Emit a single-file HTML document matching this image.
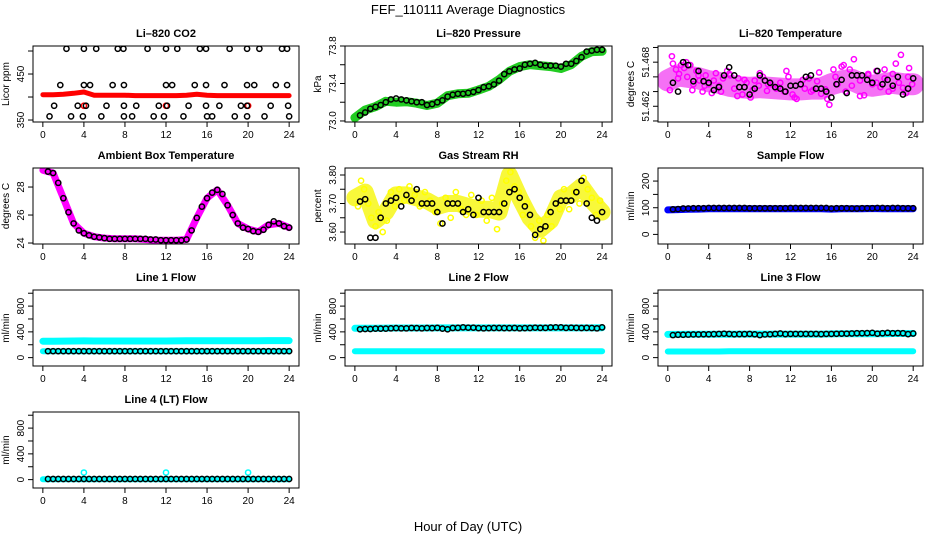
<!DOCTYPE html>
<html><head><meta charset="utf-8"><style>
html,body{margin:0;padding:0;background:#fff;}
svg{display:block;font-family:"Liberation Sans",Arial,sans-serif;}
</style></head><body>
<svg id="chart" width="936" height="540" viewBox="0 0 936 540" xmlns="http://www.w3.org/2000/svg">
<text x="468" y="14" text-anchor="middle" font-size="13">FEF_110111  Average Diagnostics</text>
<text x="468" y="531" text-anchor="middle" font-size="13">Hour of Day (UTC)</text>
</svg>
<script>
// ---------- data ----------
const xTicks = [0,4,8,12,16,20,24];
const blackHours = [0.5,1,1.5,2,2.5,3,3.5,4,4.5,5,5.5,6,6.5,7,7.5,8,8.5,9,9.5,10,10.5,11,11.5,12,12.5,13,13.5,14,14.5,15,15.5,16,16.5,17,17.5,18,18.5,19,19.5,20,20.5,21,21.5,22,22.5,23,23.5,24];
const bandHours = [0,1,2,3,4,5,6,7,8,9,10,11,12,13,14,15,16,17,18,19,20,21,22,23,24];

// CO2
const co2BlackHours = [2.3,4.0,5.2,7.3,7.85,10.2,12.0,13.1,15.3,15.9,18.2,19.9,21.1,23.3,23.8,
 1.7,4.0,4.6,6.8,7.9,12.0,12.6,14.8,15.9,17.7,19.9,20.6,22.7,23.8,
 1.1,3.4,4.2,6.2,7.9,9.1,11.3,12.1,14.2,15.9,17.2,19.3,19.9,22.2,23.9,
 0.65,2.75,3.9,5.7,7.9,8.7,10.8,11.8,13.7,16.0,16.5,18.7,19.9,21.6,24.0];
const co2BlackValues = [505,505,505,505,505,505,505,505,505,505,505,505,505,505,505,
 426,426,426,426,426,426,426,426,426,426,426,426,426,426,
 381,381,381,381,381,381,381,381,381,381,381,381,381,381,381,
 358,358,358,358,358,358,358,358,358,358,358,358,358,358,358];
const co2Red = [405,405,406,408,411,404,404,404,404,403,403,403,403,403,404,406,404,403,403,403,403,403,403,403,403];
const co2RedSpikeHours = [4,12,20];
const co2RedSpikeValues = [381,381,381];

// Pressure
const presGreen = [73.035,73.117,73.153,73.21,73.2,73.206,73.19,73.165,73.19,73.27,73.29,73.295,73.33,73.37,73.44,73.53,73.58,73.6,73.59,73.58,73.56,73.6,73.69,73.74,73.745];
const presBlack = [73.06,73.09,73.13,73.15,73.17,73.2,73.23,73.24,73.23,73.22,73.21,73.2,73.2,73.17,73.18,73.2,73.22,73.26,73.28,73.29,73.29,73.3,73.31,73.33,73.36,73.37,73.39,73.43,73.5,73.53,73.55,73.56,73.6,73.61,73.62,73.6,73.59,73.59,73.59,73.58,73.61,73.61,73.64,73.68,73.74,73.75,73.76,73.76];

// Li-820 temperature
const tempMag = [51.4655,51.4662,51.4660,51.4658,51.4654,51.4652,51.4648,51.4646,51.4645,51.4646,51.4645,51.4644,51.4643,51.4643,51.4644,51.4644,51.4650,51.4654,51.4656,51.4650,51.4648,51.4650,51.4652,51.4650,51.4650];
const tempMagScatHours = [0.2,0.5,0.8,1.0,1.3,1.6,1.9,2.2,2.5,2.8,3.1,3.4,3.7,4.0,4.3,4.7,5.0,5.4,5.8,6.1,6.5,6.9,7.3,7.7,8.1,8.5,8.9,9.3,9.7,10.1,10.6,11.0,11.4,11.8,12.2,12.6,13.0,13.4,13.8,14.2,14.6,15.0,15.4,15.8,16.2,16.6,17.0,17.4,17.8,18.2,18.5,18.8,19.2,19.6,20.0,20.4,20.8,21.2,21.6,22.0,22.3,22.6,23.0,23.3,23.6,23.9,
 0.4,1.1,1.8,2.4,3.0,3.6,4.5,5.2,6.0,6.8,7.5,8.3,9.0,9.8,10.8,11.6,12.4,13.2,14.0,14.8,15.6,16.4,17.2,18.0,18.8,19.6,20.4,21.2,22.0,22.8,23.5];
const tempMagScatValues = [51.4642,51.4678,51.4670,51.4658,51.4676,51.4672,51.4660,51.4676,51.4650,51.4668,51.4655,51.4640,51.4662,51.4650,51.4638,51.4665,51.4648,51.4658,51.4668,51.4662,51.4644,51.4658,51.4636,51.4652,51.4632,51.4655,51.4648,51.4660,51.4641,51.4650,51.4644,51.4652,51.4640,51.4660,51.4636,51.4630,51.4650,51.4644,51.4658,51.4642,51.4654,51.4637,51.4643,51.4622,51.4670,51.4650,51.4674,51.4640,51.4670,51.4684,51.4662,51.4655,51.4635,51.4662,51.4650,51.4668,51.4646,51.4658,51.4640,51.4664,51.4678,51.4652,51.4645,51.4638,51.4672,51.4650,
 51.4688,51.4664,51.4680,51.4642,51.4662,51.4648,51.4655,51.4640,51.4664,51.4634,51.4656,51.4642,51.4665,51.4650,51.4646,51.4668,51.4632,51.4656,51.4640,51.4666,51.4630,51.4660,51.4676,51.4648,51.4634,51.4664,51.4652,51.4670,51.4644,51.4690,51.4660];
const tempBlack = [51.4652,51.4640,51.4680,51.4676,51.4654,51.4668,51.4654,51.4652,51.4642,51.4646,51.4662,51.4673,51.4662,51.4646,51.4646,51.4636,51.4644,51.4662,51.4655,51.4652,51.4646,51.4644,51.4640,51.4648,51.4648,51.4650,51.4660,51.4662,51.4644,51.4644,51.4640,51.4632,51.4650,51.4656,51.4638,51.4662,51.4662,51.4662,51.4656,51.4652,51.4668,51.4650,51.4656,51.4648,51.4660,51.4636,51.4644,51.4658];

// Ambient box temperature
const ambMag = [29.2,29.0,27.2,25.4,24.7,24.45,24.35,24.3,24.3,24.3,24.25,24.2,24.2,24.2,24.25,25.8,27.2,27.8,26.7,25.4,25.0,24.8,25.3,25.4,25.1];
const ambBlack = [29.1,29.0,28.3,27.2,26.2,25.4,24.9,24.7,24.55,24.45,24.4,24.35,24.3,24.3,24.3,24.3,24.3,24.3,24.3,24.3,24.25,24.25,24.2,24.2,24.2,24.2,24.2,24.25,24.9,25.8,26.6,27.2,27.6,27.8,27.5,26.7,26.0,25.4,25.1,25.0,24.85,24.8,24.95,25.3,25.55,25.4,25.2,25.1];

// Gas stream RH
const rhYellow = [3.72,3.74,3.64,3.67,3.73,3.73,3.72,3.71,3.69,3.70,3.70,3.69,3.68,3.68,3.67,3.80,3.72,3.65,3.61,3.64,3.72,3.73,3.76,3.71,3.67];
const rhScatHours = [0.3,0.6,0.9,1.3,1.6,2.0,2.3,2.7,3.1,3.5,3.9,4.3,4.8,5.3,5.8,6.3,6.8,7.3,7.8,8.3,8.8,9.3,9.8,10.3,10.8,11.3,11.8,12.3,12.8,13.3,13.8,14.3,14.7,15.1,15.5,15.9,16.3,16.7,17.1,17.5,17.9,18.3,18.7,19.1,19.5,19.9,20.3,20.8,21.3,21.8,22.2,22.6,23.0,23.4,23.8];
const rhScatValues = [3.69,3.78,3.75,3.70,3.65,3.62,3.67,3.60,3.64,3.74,3.69,3.75,3.71,3.76,3.73,3.69,3.74,3.71,3.67,3.63,3.72,3.65,3.74,3.68,3.66,3.73,3.66,3.71,3.64,3.72,3.61,3.70,3.78,3.81,3.76,3.74,3.66,3.70,3.62,3.58,3.64,3.57,3.66,3.62,3.70,3.68,3.75,3.68,3.74,3.70,3.79,3.75,3.72,3.66,3.71];
const rhBlack = [3.707,3.715,3.58,3.58,3.65,3.70,3.71,3.72,3.69,3.73,3.71,3.75,3.70,3.70,3.70,3.67,3.63,3.70,3.70,3.70,3.67,3.68,3.66,3.72,3.67,3.67,3.67,3.67,3.70,3.74,3.75,3.72,3.69,3.66,3.59,3.61,3.62,3.67,3.70,3.71,3.71,3.71,3.74,3.78,3.70,3.65,3.64,3.67];

// Sample flow
const sampleBlue = [92,93,94,95,96,96,96,96,96,96,96,96,96,96,96,96,95,96,96,96,97,96,96,96,96];
const sampleBlack = [94,95,97,97,98,98,98,99,99,99,99,99,99,99,99,98,98,98,98,98,98,98,98,99,99,99,99,99,99,99,99,97,98,98,98,97,97,98,98,98,99,99,98,99,99,98,98,98];

// Line flows
const line1High = [255,255,256,258,260,258,258,258,258,258,258,258,258,260,262,262,262,262,262,262,262,262,264,264,264];
const line1Low = [100,100,100,100,100,100,100,100,100,100,100,100,100,100,100,100,100,100,100,100,100,100,100,100,100];
const line1Black = [100,100,100,100,100,100,100,100,100,100,100,100,100,100,100,100,100,100,100,100,100,100,100,100,100,100,100,100,100,100,100,100,100,100,100,100,100,100,100,100,100,100,100,100,100,100,100,100];
const line2High = [455,455,456,458,460,460,460,460,462,462,462,462,462,462,462,462,462,462,462,462,462,462,462,462,465];
const line2Low = [100,100,100,100,100,100,100,100,100,100,100,100,100,100,100,100,100,100,100,100,100,100,100,100,100];
const line2Black = [440,445,445,450,450,450,455,458,455,455,460,458,455,460,458,462,450,440,460,462,470,465,465,458,455,458,460,460,458,458,460,455,458,460,465,462,462,468,470,470,462,465,462,460,462,460,455,470];
const line3High = [360,360,362,362,362,362,362,365,365,365,365,365,365,365,365,365,368,370,370,370,370,370,375,375,375];
const line3Low = [95,95,95,95,95,95,100,100,100,100,100,100,100,100,100,100,100,100,100,100,100,100,100,100,100];
const line3Black = [350,355,355,358,360,360,362,362,365,368,372,368,362,365,365,368,362,350,360,362,368,375,365,368,368,368,368,368,368,365,368,368,370,372,372,375,378,378,380,385,372,378,385,378,380,378,365,375];
const line4Cyan = [5,5,5,5,5,5,5,5,5,5,5,5,5,5,5,5,5,5,5,5,5,5,5,5,5];
const line4SpikeHours = [4,12,20];
const line4SpikeValues = [110,110,110];
const line4Black = [10,10,10,10,10,10,10,10,10,10,10,10,10,10,10,10,10,10,10,10,10,10,10,10,10,10,10,10,10,10,10,10,10,10,10,10,10,10,10,10,10,10,10,10,10,10,10,10];

// ---------- drawing ----------
const NS = 'http://www.w3.org/2000/svg';
const svg = document.getElementById('chart');
function mk(tag, attrs, parent){
  const e = document.createElementNS(NS, tag);
  for (const k in attrs) e.setAttribute(k, attrs[k]);
  (parent||svg).appendChild(e);
  return e;
}
const colLeft = [33, 345, 658], colRight = [299, 612, 923];
const rowTop = [46, 168, 290, 412], rowBot = [122, 244, 366, 488];

function panel(name, col, row, title, ylab, ymin, ymax, yTicks, yLabels){
  const L = colLeft[col], R = colRight[col], T = rowTop[row], B = rowBot[row];
  const g = mk('g', {});
  
  
  const xs = h => L + (R - L) * (h + 0.96) / 25.92;
  const ys = v => B - (B - T) * (v - ymin) / (ymax - ymin);
  const clip = mk('clipPath', {id: 'clip-' + name}, g);
  mk('rect', {x: L, y: T, width: R - L, height: B - T}, clip);
  const plot = mk('g', {'clip-path': 'url(#clip-' + name + ')'}, g);
  
  
  const t = mk('text', {x: (L + R) / 2, y: T - 9, 'text-anchor': 'middle', 'font-size': 11, 'font-weight': 'bold'}, g);
  
  
  t.textContent = title;
  const yl = mk('text', {transform: 'translate(' + (L - 24) + ',' + ((T + B) / 2) + ') rotate(-90)', 'text-anchor': 'middle', 'font-size': 10}, g);
  
  
  yl.textContent = ylab;
  const xa = mk('g', {}, g);
  
  
  mk('line', {x1: xs(xTicks[0]), x2: xs(xTicks[xTicks.length - 1]), y1: B, y2: B, stroke: '#000'}, xa);
  xTicks.forEach(h => {
    mk('line', {x1: xs(h), x2: xs(h), y1: B, y2: B + 5, stroke: '#000'}, xa);
    const tl = mk('text', {x: xs(h), y: B + 16, 'text-anchor': 'middle', 'font-size': 10}, xa);
    
    
    tl.textContent = h;
  });
  const ya = mk('g', {}, g);
  
  
  yTicks.forEach((v, i) => {
    mk('line', {x1: L - 5, x2: L, y1: ys(v), y2: ys(v), stroke: '#000'}, ya);
    if (yLabels[i]) {
      const tl = mk('text', {transform: 'translate(' + (L - 9) + ',' + ys(v) + ') rotate(-90)', 'text-anchor': 'middle', 'font-size': 10}, ya);
      
      
      tl.textContent = yLabels[i];
    }
  });
  return {plot, xs, ys, box: () => mk('rect', {x: L, y: T, width: R - L, height: B - T, fill: 'none', stroke: '#000'}, g)};
}
function band(p, hours, vals, color, width, name){
  const pts = hours.map((h, i) => p.xs(h).toFixed(1) + ',' + p.ys(vals[i]).toFixed(1)).join(' ');
  const pl = mk('polyline', {points: pts, fill: 'none', stroke: color, 'stroke-width': width, 'stroke-linejoin': 'round', 'stroke-linecap': 'round'}, p.plot);
  
  
}
function dots(p, hours, vals, color, name){
  const g = mk('g', {}, p.plot);
  
  
  hours.forEach((h, i) => {
    const c = mk('circle', {cx: p.xs(h), cy: p.ys(vals[i]), r: 2.6, fill: 'none', stroke: color, 'stroke-width': 1.5}, g);
    
    
  });
}

// Li-820 CO2
let p = panel('co2', 0, 0, 'Li\u2013820 CO2', 'Licor ppm', 345.7, 510.9, [350,400,450,500], ['350','','450','']);
band(p, bandHours, co2Red, '#ff0000', 5, 'co2-red-series');
dots(p, co2RedSpikeHours, co2RedSpikeValues, '#ff0000', 'co2-red-spikes');
dots(p, co2BlackHours, co2BlackValues, '#000', 'co2-black-series');
p.box();

// Pressure
p = panel('pressure', 1, 0, 'Li\u2013820 Pressure', 'kPa', 72.989, 73.8, [73.0,73.2,73.4,73.6,73.8], ['73.0','','73.4','','73.8']);
band(p, bandHours, presGreen, '#22cc22', 9, 'pressure-green-series');
dots(p, blackHours, presBlack, '#000', 'pressure-black-series');
p.box();

// Temperature
p = panel('temperature', 2, 0, 'Li\u2013820 Temperature', 'degrees C', 51.45986, 51.4702, [51.460,51.462,51.464,51.466,51.468,51.470], ['','51.462','','','51.468','']);
band(p, bandHours, tempMag, '#f570f5', 22, 'temperature-magenta-band');
dots(p, tempMagScatHours, tempMagScatValues, '#ff00ff', 'temperature-magenta-series');
dots(p, blackHours, tempBlack, '#000', 'temperature-black-series');
p.box();

// Ambient box temperature
p = panel('ambient', 0, 1, 'Ambient Box Temperature', 'degrees C', 23.93, 29.36, [24,26,28], ['24','26','28']);
band(p, bandHours, ambMag, '#ff00ff', 7, 'ambient-magenta-series');
dots(p, blackHours, ambBlack, '#000', 'ambient-black-series');
p.box();

// RH
p = panel('rh', 1, 1, 'Gas Stream RH', 'percent', 3.558, 3.8245, [3.60,3.65,3.70,3.75,3.80], ['3.60','','3.70','','3.80']);
band(p, bandHours, rhYellow, '#f8f83a', 17, 'rh-yellow-band');
dots(p, rhScatHours, rhScatValues, '#ffff00', 'rh-yellow-series');
dots(p, blackHours, rhBlack, '#000', 'rh-black-series');
p.box();

// Sample flow
p = panel('sample-flow', 2, 1, 'Sample Flow', 'ml/min', -36, 249, [0,50,100,150,200], ['0','','100','','200']);
band(p, bandHours, sampleBlue, '#0000ff', 7, 'sample-flow-blue-series');
dots(p, blackHours, sampleBlack, '#000', 'sample-flow-black-series');
p.box();

const flowTicks = [0,200,400,600,800,1000], flowLabels = ['0','','400','','800',''];
// Line 1
p = panel('line1-flow', 0, 2, 'Line 1 Flow', 'ml/min', -130, 1050, flowTicks, flowLabels);
band(p, bandHours, line1High, '#00ffff', 7, 'line1-high-series');
band(p, bandHours, line1Low, '#00ffff', 6, 'line1-low-series');
dots(p, blackHours, line1Black, '#000', 'line1-black-series');
p.box();
// Line 2
p = panel('line2-flow', 1, 2, 'Line 2 Flow', 'ml/min', -130, 1050, flowTicks, flowLabels);
band(p, bandHours, line2High, '#00ffff', 7, 'line2-high-series');
band(p, bandHours, line2Low, '#00ffff', 6, 'line2-low-series');
dots(p, blackHours, line2Black, '#000', 'line2-black-series');
p.box();
// Line 3
p = panel('line3-flow', 2, 2, 'Line 3 Flow', 'ml/min', -130, 1050, flowTicks, flowLabels);
band(p, bandHours, line3High, '#00ffff', 7, 'line3-high-series');
band(p, bandHours, line3Low, '#00ffff', 6, 'line3-low-series');
dots(p, blackHours, line3Black, '#000', 'line3-black-series');
p.box();
// Line 4
p = panel('line4-flow', 0, 3, 'Line 4 (LT) Flow', 'ml/min', -130, 1050, flowTicks, flowLabels);
band(p, bandHours, line4Cyan, '#00ffff', 6, 'line4-cyan-series');
dots(p, line4SpikeHours, line4SpikeValues, '#00ffff', 'line4-cyan-spikes');
dots(p, blackHours, line4Black, '#000', 'line4-black-series');
p.box();
</script>
</body></html>
